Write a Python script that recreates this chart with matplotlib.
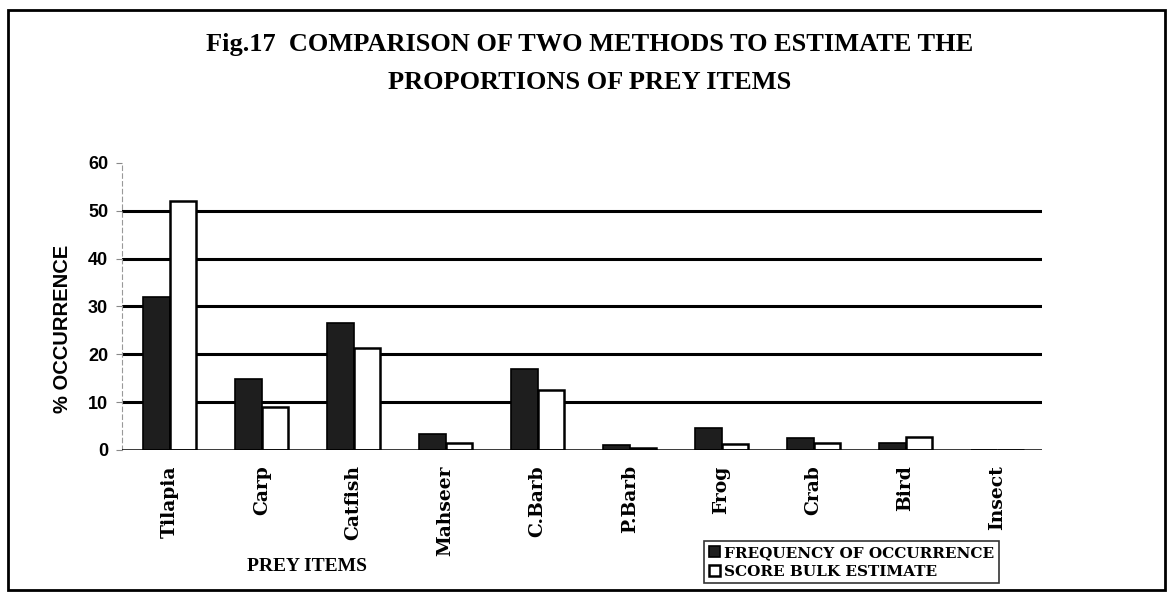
import matplotlib
matplotlib.use("Agg")
import matplotlib.pyplot as plt
from matplotlib.patches import Rectangle
import numpy as np

categories = ["Tilapia", "Carp", "Catfish", "Mahseer", "C.Barb", "P.Barb", "Frog", "Crab", "Bird", "Insect"]
freq_occurrence = [32, 14.9, 26.6, 3.3, 17, 1.0, 4.5, 2.5, 1.5, 0]
score_bulk = [52, 9, 21.3, 1.5, 12.5, 0.5, 1.3, 1.5, 2.8, 0]
yticks = [0, 10, 20, 30, 40, 50, 60]

fig = plt.figure(figsize=(11.73, 5.98), dpi=100)
ax = fig.add_axes([0.104, 0.2475, 0.784, 0.48])

x = np.arange(len(categories))
w = 0.29
ax.bar(x - w/2, freq_occurrence, w, color="#1e1e1e", edgecolor="black", linewidth=1.2,
       label="FREQUENCY OF OCCURRENCE", zorder=3)
ax.bar(x + w/2, score_bulk, w, color="white", edgecolor="black", linewidth=1.8,
       label="SCORE BULK ESTIMATE", zorder=3)

for v in yticks[1:-1]:
    ax.axhline(v, color="black", linewidth=2.2, zorder=1)
ax.axhline(0, color="black", linewidth=1.8, zorder=4)

ax.set_xlim(-0.52, 9.48)
ax.set_ylim(0, 60)
ax.set_yticks(yticks)
ax.set_yticklabels([str(v) for v in yticks], fontsize=13, fontweight="bold", family="Liberation Sans")
ax.set_xticks(x)
ax.set_xticklabels(categories, rotation=90, fontsize=13.5, fontweight="bold", family="DejaVu Serif")
ax.tick_params(axis="x", length=0, pad=11)
ax.tick_params(axis="y", length=4, width=0.8, color="#888888", pad=6)

for s in ["top", "right", "bottom"]:
    ax.spines[s].set_visible(False)
ax.spines["left"].set_color("#999999")
ax.spines["left"].set_linestyle((0, (4, 3)))
ax.spines["left"].set_linewidth(0.8)

fig.text(0.053, 0.45, "% OCCURRENCE", rotation=90, ha="center", va="center",
         fontsize=14.5, fontweight="bold", family="Liberation Sans")
fig.text(0.262, 0.052, "PREY ITEMS", ha="center", va="center",
         fontsize=14, fontweight="bold", family="Liberation Serif")

fig.text(0.503, 0.925, "Fig.17  COMPARISON OF TWO METHODS TO ESTIMATE THE",
         ha="center", va="center", fontsize=19, fontweight="bold", family="Liberation Serif")
fig.text(0.503, 0.862, "PROPORTIONS OF PREY ITEMS",
         ha="center", va="center", fontsize=19, fontweight="bold", family="Liberation Serif")

leg = fig.legend(loc="lower left", bbox_to_anchor=(0.594, 0.012), frameon=True,
                 fancybox=False, edgecolor="black", handlelength=0.7, handleheight=0.7,
                 handletextpad=0.3, borderpad=0.3, labelspacing=0.3,
                 prop={"family": "DejaVu Serif", "weight": "bold", "size": 11})
leg.get_frame().set_linewidth(1.2)

fig.patches.append(Rectangle((0.007, 0.013), 0.986, 0.97, transform=fig.transFigure,
                             fill=False, edgecolor="black", linewidth=2.0))

fig.savefig("out.png", dpi=100)
